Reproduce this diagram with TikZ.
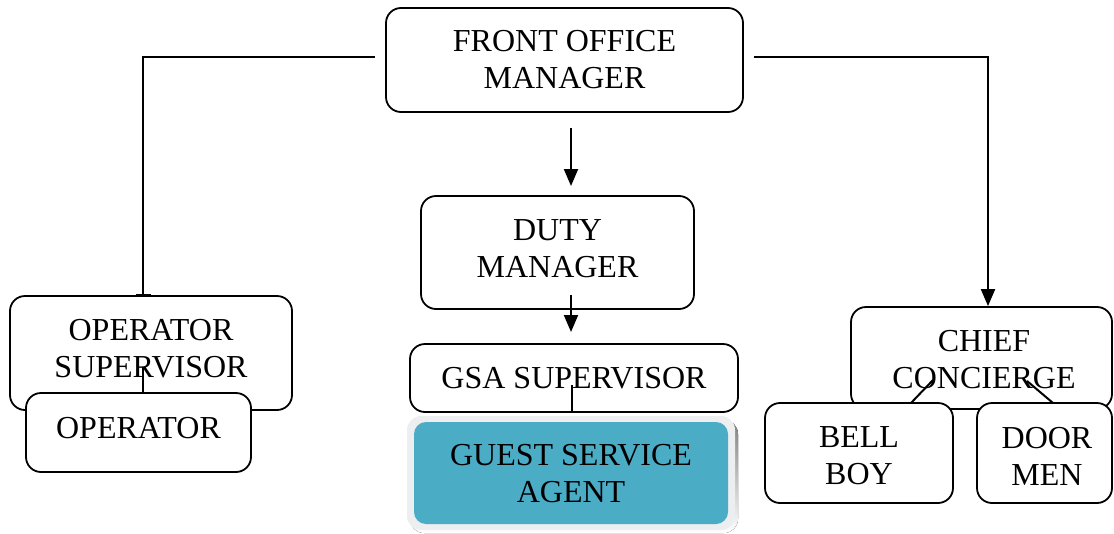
\documentclass[tikz,border=0pt]{standalone}
\usepackage{fontspec}
\setmainfont{Liberation Serif}
\usetikzlibrary{arrows.meta}
\definecolor{teal5}{RGB}{75,172,198}
\definecolor{frame}{RGB}{236,238,240}
\definecolor{shade}{RGB}{150,162,172}
\begin{document}
\begin{tikzpicture}[x=1pt,y=-1pt,
  box/.style={draw=black,line width=1.8pt,rounded corners=15pt,fill=white,inner sep=0pt,
    align=center,font=\fontsize{32}{37}\selectfont},
  txt/.style={inner sep=0pt,align=center,font=\fontsize{32}{37}\selectfont},
  conn/.style={line width=2pt},
  arr/.style={conn,-{Triangle[width=14pt,length=17pt]}},
  bararr/.style={conn,-{Bar[width=15pt,line width=2pt]}}]
\useasboundingbox (0,0) rectangle (1114,533);
% top
\node[box,minimum width=357,minimum height=104] (fom) at (564.5,60) {FRONT OFFICE\\MANAGER};
\node[box,minimum width=273,minimum height=113] (duty) at (557.5,252.5) {};
\node[txt] (dutytext) at (557.5,248.5) {DUTY\\MANAGER};
% left
\node[box,minimum width=282,minimum height=114] (opsup) at (151,353) {};
\node[txt] (opsuptext) at (151,349) {OPERATOR\\SUPERVISOR};
\node[box,minimum width=225,minimum height=79] (op) at (138.5,432.5) {};
\node[txt] (optext) at (138.5,428) {OPERATOR};
% middle
\node[box,minimum width=328,minimum height=68] (gsasup) at (574,378) {GSA SUPERVISOR};
\fill[shade,rounded corners=14pt] (410,420) rectangle (738,533);
\fill[frame,rounded corners=14pt] (407,416) rectangle (735,530);
\node[box,draw=none,fill=teal5,rounded corners=12pt,minimum width=314,minimum height=102] (gsa) at (571,473) {};
\node[txt] (gsatext) at (571,474) {GUEST SERVICE\\AGENT};
% right
\node[box,minimum width=261,minimum height=102] (chief) at (981.5,358) {};
\node[txt] (chieftext) at (984,360) {CHIEF\\CONCIERGE};
\node[box,minimum width=188,minimum height=100] (bell) at (859,453) {};
\node[txt] (belltext) at (859,456) {BELL\\BOY};
\node[box,minimum width=135,minimum height=100] (door) at (1044.5,453) {};
\node[txt] (doortext) at (1047,456) {DOOR\\MEN};
% connectors
\coordinate (lstart) at (375,57);
\coordinate (lend) at (143,296);
\draw[bararr] (lstart) -| (lend);
\coordinate (rstart) at (754,57);
\draw[arr] (rstart) -| (chief.north -| 988,0);
\coordinate (a1) at (571,128);
\coordinate (a2) at (571,186);
\draw[arr] (a1) -- (a2);
\coordinate (b1) at (571,295);
\coordinate (b2) at (571,332);
\draw[arr] (b1) -- (b2);
\coordinate (g1) at (572,385);
\draw[conn] (g1) -- (gsasup.south -| g1);
\coordinate (o1) at (143,367);
\draw[conn] (o1) -- (op.north -| o1);
\coordinate (c1) at (933,380);
\coordinate (c2) at (911,403);
\draw[conn] (c1) -- (c2);
\coordinate (c3) at (1027,381);
\coordinate (c4) at (1053,403);
\draw[conn] (c3) -- (c4);
\end{tikzpicture}
\end{document}
